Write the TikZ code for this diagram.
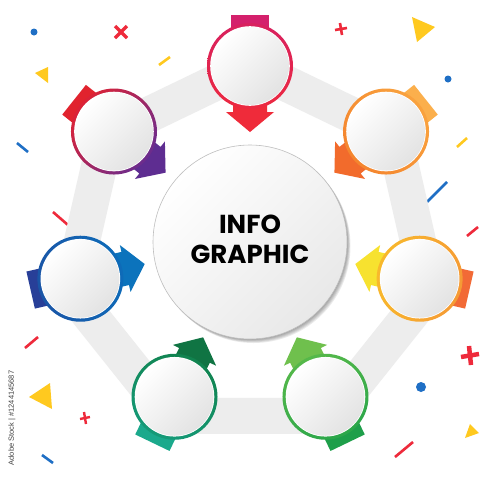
\documentclass[tikz,border=0pt]{standalone}
\usepackage{fontspec}
\newfontfamily\popfont{Poppins}
\newfontfamily\wmfont{Liberation Sans}
\definecolor{t0}{HTML}{D4206C}\definecolor{a0}{HTML}{EF2B3A}
\definecolor{t1}{HTML}{FBAF4C}\definecolor{a1}{HTML}{F26B2C}
\definecolor{t2}{HTML}{F26A36}\definecolor{a2}{HTML}{F7E22F}
\definecolor{t3}{HTML}{1E9F4A}\definecolor{a3}{HTML}{6FC04D}
\definecolor{t4}{HTML}{1BA98C}\definecolor{a4}{HTML}{107443}
\definecolor{t5}{HTML}{283F98}\definecolor{a5}{HTML}{0C73BC}
\definecolor{t6}{HTML}{E1232E}\definecolor{a6}{HTML}{5E2D91}
\definecolor{rt0}{HTML}{D8215F}\definecolor{ra0}{HTML}{EC2940}
\definecolor{rt1}{HTML}{F9A23E}\definecolor{ra1}{HTML}{F4852E}
\definecolor{rt2}{HTML}{F59A35}\definecolor{ra2}{HTML}{F8B92C}
\definecolor{rt3}{HTML}{2BA64A}\definecolor{ra3}{HTML}{55B84A}
\definecolor{rt4}{HTML}{159A78}\definecolor{ra4}{HTML}{11834F}
\definecolor{rt5}{HTML}{1A55A6}\definecolor{ra5}{HTML}{0E6BB8}
\definecolor{rt6}{HTML}{DC2236}\definecolor{ra6}{HTML}{6A2C8E}
\definecolor{cred}{HTML}{EE2A3B}
\definecolor{cyel}{HTML}{FFC91F}
\definecolor{cblue}{HTML}{1F6FC5}
\definecolor{bandgray}{HTML}{EDEDED}
\tikzset{
  confdash/.style={line width=2.6pt},
  confcross/.style={line width=3.5pt},
  band/.style={draw=bandgray, line width=36pt, line join=round},
  slot/.style={circle, minimum size=86pt, inner sep=0pt},
}
\begin{document}
\begin{tikzpicture}[x=1pt,y=-1pt]
\useasboundingbox (0,0) rectangle (500,480);
\fill[white] (0,0) rectangle (500,480);

% confetti
\fill[cblue] (34,32) circle (3.5);
\draw[cred, confcross] (115,26) -- (127,38) (115,38) -- (127,26);
\draw[cyel, confdash] (159,65) -- (170,57);
\fill[cyel] (35,73) -- (48,67) -- (48,83) -- cycle;
\draw[cred, line width=2.6pt] (335,30) -- (347,28) (340,23) -- (342,35);
\fill[cyel] (412,17) -- (435,27) -- (417,42) -- cycle;
\fill[cblue] (448,79) circle (3.5);
\draw[cyel, confdash] (457,147) -- (467,138);
\draw[cblue, confdash] (427,202) -- (447,182);
\draw[cred, confdash] (467,236) -- (478,227);
\draw[cred, line width=4.5pt] (461,357) -- (479,354) (469,346) -- (471,365);
\fill[cblue] (421,387) circle (5);
\fill[cyel] (465,438) -- (479,433) -- (470,424) -- cycle;
\draw[cred, confdash] (395,457) -- (413,442);
\draw[cblue, confdash] (17,143) -- (28,152);
\draw[cred, confdash] (53,212) -- (68,225);
\draw[cred, confdash] (25,348) -- (38,337);
\fill[cyel] (29,397) -- (50,383) -- (52,409) -- cycle;
\draw[cred, line width=2.4pt] (80,419) -- (90,417) (84,412) -- (86,424);
\draw[cblue, confdash] (42,455) -- (53,463);

\node[rotate=90, font=\wmfont\fontsize{7.5}{8}\selectfont, text=black!75, inner sep=0pt] (wm) at (12,418) {Adobe Stock | \#1244145687};

% heptagon band
\foreach \k in {0,...,6}{
  \coordinate (h\k) at ({250+184*cos(90-51.4286*\k)},{250-184*sin(90-51.4286*\k)});
}
\draw[band] (h0) -- (h1) -- (h2) -- (h3) -- (h4) -- (h5) -- (h6) -- cycle;

% centre circle
\foreach \i in {1,...,5}{
  \fill[black, opacity=0.08] ({250+0.7*\i},{242+0.8*\i}) circle (97);
}
\node[circle, minimum size=194pt, inner sep=0pt] (mid) at (250,242) {};
\shade[top color=white, bottom color=black!9, shading angle=45] (mid.center) circle (97);
\draw[black!25, line width=0.6pt] (mid.center) circle (97);
\node[font=\popfont\bfseries\fontsize{26}{30}\selectfont, align=center, inner sep=0pt] (title) at (250,239) {INFO\\GRAPHIC};

% seven slots
\foreach \k/\T/\A/\RT/\RA in {0/t0/a0/rt0/ra0,1/t1/a1/rt1/ra1,2/t2/a2/rt2/ra2,3/t3/a3/rt3/ra3,4/t4/a4/rt4/ra4,5/t5/a5/rt5/ra5,6/t6/a6/rt6/ra6}{
  \pgfmathsetmacro\phi{90-51.4286*\k}
  \pgfmathsetmacro\sang{-51.4286*\k}
  \node[slot] (c\k) at ({250+174*cos(\phi)},{240-174*sin(\phi)}) {};
  \begin{scope}[shift={(c\k.center)}, rotate=\phi]
    \fill[\T] (0,-19) rectangle (51,19);
    \fill[\A] (0,-17) -- (-46,-17) -- (-46,-24) -- (-66,0) -- (-46,24) -- (-46,17) -- (0,17) -- cycle;
  \end{scope}
  \shade[top color=\RT, bottom color=\RA, shading angle=\sang] (c\k.center) circle (43);
  \fill[white] (c\k.center) circle (39.8);
  \shade[top color=white, bottom color=black!11, shading angle=45] (c\k.center) circle (39);
}
\end{tikzpicture}
\end{document}
